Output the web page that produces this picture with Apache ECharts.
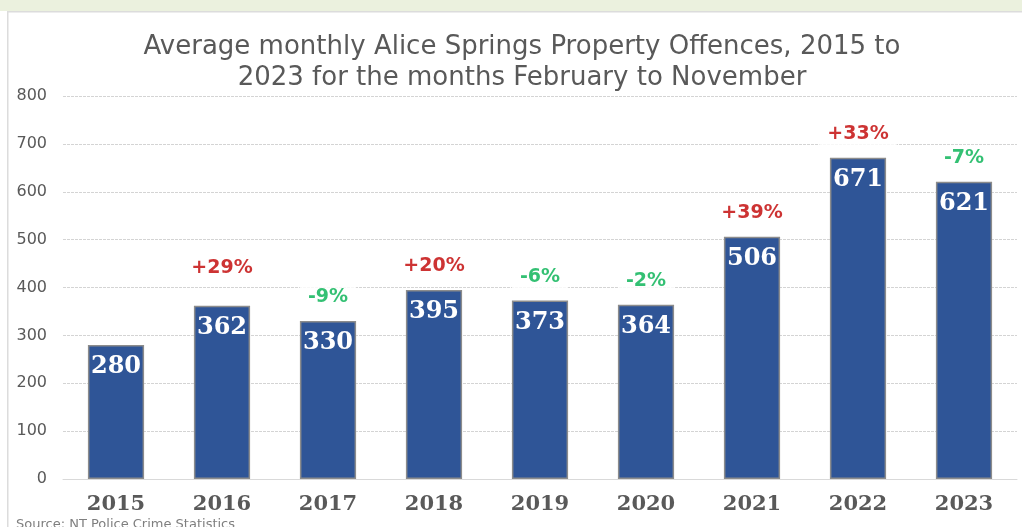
<!DOCTYPE html>
<html>
<head>
<meta charset="utf-8">
<script src="https://cdn.jsdelivr.net/npm/echarts@6/dist/echarts.min.js"></script>
<style>
  html, body { margin: 0; padding: 0; background: #fff; }
  #chart { width: 1022px; height: 527px; }
</style>
</head>
<body>
<div id="chart"></div>
<script>
// data
const years = ['2015', '2016', '2017', '2018', '2019', '2020', '2021', '2022', '2023']
const offences = [280, 362, 330, 395, 373, 364, 506, 671, 621]
const changeLabels = ['', '+29%', '-9%', '+20%', '-6%', '-2%', '+39%', '+33%', '-7%']
const yTicks = [0, 100, 200, 300, 400, 500, 600, 700, 800]

const red = '#C00000'
const green = '#00B050'
const grey = '#595959'

const chart = echarts.init(document.getElementById('chart'))

// percent labels sit on an invisible scatter series on top of the bars
const changeData = offences.map((v, i) => {
  if (!changeLabels[i]) return '-'
  const up = changeLabels[i].startsWith('+')
  const item = {
    value: v,
    label: { color: up ? red : green }
  }
  // 2016 label sits higher than the rest in the original
  if (i === 1) item.label.offset = [0, -14]
  return item
})

const option = {
  animation: false,
  backgroundColor: '#fff',
  graphic: [
    { type: 'rect', left: 0, top: 0, shape: { width: 1022, height: 11 }, style: { fill: '#EBF1DE' }, z: -10 },
    { type: 'rect', left: 7, top: 11, shape: { width: 1030, height: 530 }, style: { fill: '#fff', stroke: '#dcdcdc', lineWidth: 1.5 }, z: -9 },
    {
      type: 'text', left: 16, top: 518,
      style: { text: 'Source: NT Police Crime Statistics', fill: '#7f7f7f', font: '13px "DejaVu Sans"' }
    }
  ],
  title: {
    text: 'Average monthly Alice Springs Property Offences, 2015 to\n2023 for the months February to November',
    left: 517,
    top: 27,
    textAlign: 'center',
    textStyle: {
      fontFamily: 'DejaVu Sans',
      fontWeight: 'normal',
      fontSize: 26,
      lineHeight: 31,
      color: grey
    }
  },
  grid: { left: 63, right: 5, top: 96, bottom: 48 },
  xAxis: {
    type: 'category',
    data: years,
    axisTick: { show: false },
    axisLine: { lineStyle: { color: '#d9d9d9' } },
    axisLabel: {
      margin: 15,
      fontFamily: 'DejaVu Serif',
      fontWeight: 'bold',
      fontSize: 21,
      color: grey
    }
  },
  yAxis: {
    type: 'value',
    min: yTicks[0],
    max: yTicks[yTicks.length - 1],
    interval: 100,
    axisLabel: {
      margin: 16,
      fontFamily: 'DejaVu Sans',
      fontSize: 16,
      color: grey
    },
    splitLine: { lineStyle: { color: '#d4d4d4', type: [3, 1] } }
  },
  series: [
    {
      type: 'bar',
      data: offences,
      barWidth: '53%',
      itemStyle: { color: '#2F5597', borderColor: '#8c8c8c', borderWidth: 1.5 },
      label: {
        show: true,
        position: 'insideTop',
        distance: 10,
        color: '#fff',
        fontFamily: 'DejaVu Serif',
        fontWeight: 'bold',
        fontSize: 24
      }
    },
    {
      type: 'scatter',
      data: changeData,
      symbolSize: 0,
      silent: true,
      z: 5,
      label: {
        show: true,
        position: 'top',
        distance: 12,
        formatter: p => changeLabels[p.dataIndex],
        fontFamily: 'DejaVu Sans',
        fontWeight: 'bold',
        fontSize: 19,
        backgroundColor: '#fff',
        padding: [2, 8]
      }
    }
  ]
}

chart.setOption(option)
</script>
</body>
</html>
